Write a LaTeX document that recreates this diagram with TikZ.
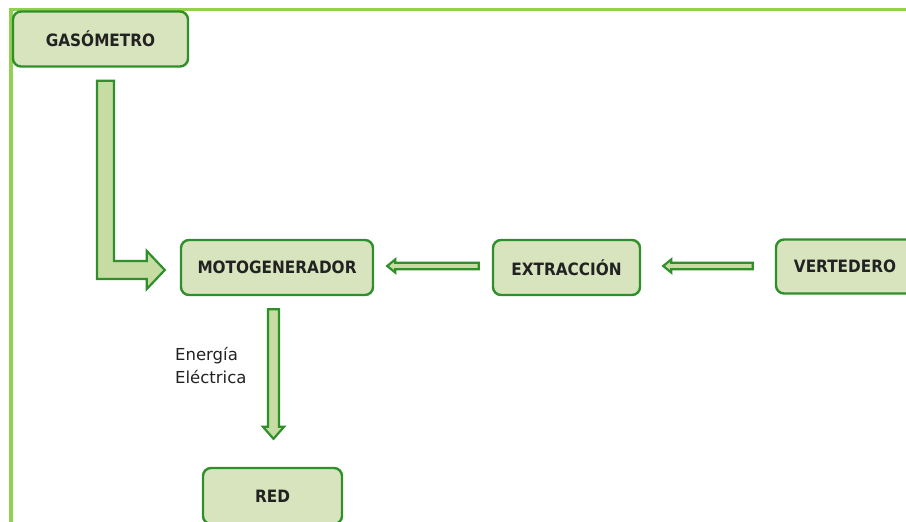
\documentclass[tikz,border=0pt]{standalone}
\usepackage{fontspec}
\setmainfont{DejaVu Sans}
\newfontfamily\narrowsans{DejaVu Sans Condensed}
\usetikzlibrary{calc}
\definecolor{framegreen}{HTML}{92D050}
\definecolor{boxfill}{HTML}{D7E4BD}
\definecolor{boxline}{HTML}{2F8F2A}
\definecolor{arrowfill}{HTML}{C6DCA2}
\definecolor{inktext}{HTML}{222222}
\tikzset{
  stagebox/.style={draw=boxline, fill=boxfill, line width=2.4pt, rounded corners=8pt,
    minimum height=55pt, inner sep=0pt, font=\narrowsans\fontsize{17}{19}\selectfont\bfseries, text=inktext},
  blockarrow/.style={draw=boxline, fill=arrowfill, line width=2.2pt, line join=miter},
  framerule/.style={draw=framegreen, line width=3.5pt},
}
\begin{document}
\begin{tikzpicture}[x=1pt, y=-1pt]
  \useasboundingbox (0,0) rectangle (906,522);
  \clip (0,0) rectangle (906,522);

  % outer frame (top and left edges)
  \draw[framerule] (11,522) -- (11,9.5) -- (906,9.5);

  % process stages
  \node[stagebox, minimum width=175pt] (gas) at (100.5,39) {GASÓMETRO};
  \node[stagebox, minimum width=192pt] (moto) at (277,267.5) {MOTOGENERADOR};
  \node[stagebox, minimum width=147pt] (ext) at (566.5,267.5) {EXTRACCIÓN};
  \node[stagebox, minimum width=138pt, minimum height=54pt] (vert) at (845,266.5) {VERTEDERO};
  \node[stagebox, minimum width=139pt, minimum height=56pt] (red) at (272.5,496) {RED};

  % bent arrow: gas holder -> generator
  \coordinate (Ltop) at ($(gas.south)+(5,13)$);
  \coordinate (Ltip) at ($(moto.west)+(-15,2.5)$);
  \coordinate (Lc) at (Ltop |- Ltip);
  \draw[blockarrow]
    ($(Ltop)+(-8.5,0)$) -- ($(Ltop)+(8.5,0)$) -- ($(Lc)+(8.5,-9)$)
    -- ($(Ltip)+(-18,-9)$) -- ($(Ltip)+(-18,-19)$) -- (Ltip)
    -- ($(Ltip)+(-18,19)$) -- ($(Ltip)+(-18,9)$) -- ($(Lc)+(-8.5,9)$) -- cycle;

  % extraction -> generator
  \coordinate (A1tip) at ($(moto.east)+(13,-1.5)$);
  \coordinate (A1end) at ($(ext.west)+(-13,-1.5)$);
  \draw[blockarrow]
    (A1tip) -- ($(A1tip)+(8,-6.5)$) -- ($(A1tip)+(8,-3.2)$) -- ($(A1end)+(0,-3.2)$)
    -- ($(A1end)+(0,3.2)$) -- ($(A1tip)+(8,3.2)$) -- ($(A1tip)+(8,6.5)$) -- cycle;

  % landfill -> extraction
  \coordinate (A2tip) at ($(ext.east)+(22,-1.5)$);
  \coordinate (A2end) at ($(vert.west)+(-22,-0.5)$);
  \draw[blockarrow]
    (A2tip) -- ($(A2tip)+(8,-6.5)$) -- ($(A2tip)+(8,-3.2)$) -- ($(A2end)+(0,-3.2)$)
    -- ($(A2end)+(0,3.2)$) -- ($(A2tip)+(8,3.2)$) -- ($(A2tip)+(8,6.5)$) -- cycle;

  % generator -> grid
  \coordinate (Dtop) at ($(moto.south)+(-3.5,13)$);
  \coordinate (Dtip) at ($(red.north)+(1,-28)$);
  \draw[blockarrow]
    ($(Dtop)+(-5.5,0)$) -- ($(Dtop)+(5.5,0)$) -- ($(Dtip)+(5.5,-12)$) -- ($(Dtip)+(10.5,-12)$)
    -- (Dtip) -- ($(Dtip)+(-10.5,-12)$) -- ($(Dtip)+(-5.5,-12)$) -- cycle;

  \node[anchor=north west, inner sep=0pt, align=left, text=inktext,
        font=\fontsize{16.5}{23}\selectfont] (lbl) at (175,347) {Energía\\Eléctrica};
\end{tikzpicture}
\end{document}
